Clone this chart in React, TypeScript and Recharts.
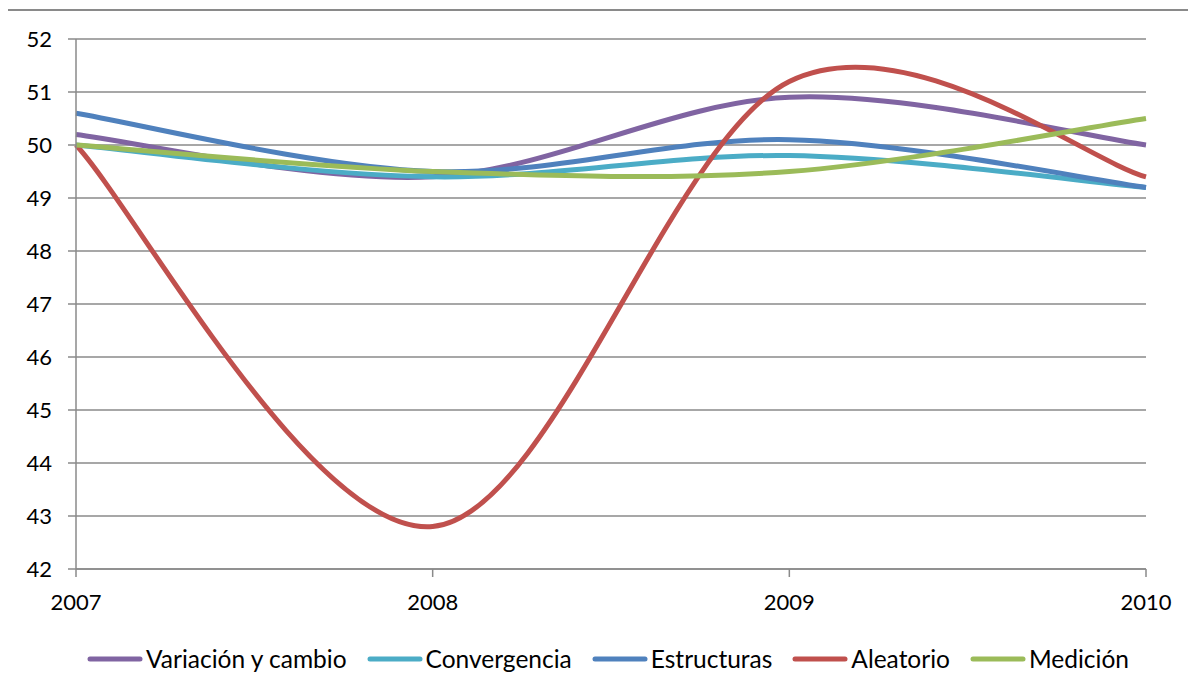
import React from "react";
import { LineChart, Line, XAxis, YAxis, CartesianGrid } from "recharts";

const years = [2007, 2008, 2009, 2010];
const variacion = [50.2, 49.4, 50.9, 50.0];
const convergencia = [50.0, 49.4, 49.8, 49.2];
const estructuras = [50.6, 49.5, 50.1, 49.2];
const aleatorio = [50.0, 42.8, 51.2, 49.4];
const medicion = [50.0, 49.5, 49.5, 50.5];
const yTicks = [42, 43, 44, 45, 46, 47, 48, 49, 50, 51, 52];

const seriesDefs = [
  { key: "variacion", name: "Variación y cambio", color: "#8064A2", values: variacion },
  { key: "convergencia", name: "Convergencia", color: "#4BACC6", values: convergencia },
  { key: "estructuras", name: "Estructuras", color: "#4F81BD", values: estructuras },
  { key: "aleatorio", name: "Aleatorio", color: "#C0504D", values: aleatorio },
  { key: "medicion", name: "Medición", color: "#9BBB59", values: medicion },
];

const data = years.map((y, i) => {
  const row: any = { year: y };
  seriesDefs.forEach((s) => (row[s.key] = s.values[i]));
  return row;
});

// Excel-like smoothing (Catmull-Rom to Bezier)
class ExcelCurve {
  _context: any;
  _x: number[] = [];
  _y: number[] = [];
  _line: number = NaN;
  constructor(context: any) {
    this._context = context;
  }
  areaStart() {
    this._line = 0;
  }
  areaEnd() {
    this._line = NaN;
  }
  lineStart() {
    this._x = [];
    this._y = [];
  }
  point(x: number, y: number) {
    this._x.push(+x);
    this._y.push(+y);
  }
  lineEnd() {
    const xs = this._x;
    const ys = this._y;
    const n = xs.length;
    if (n) {
      if (this._line) this._context.lineTo(xs[0], ys[0]);
      else this._context.moveTo(xs[0], ys[0]);
      for (let i = 0; i < n - 1; i++) {
        const i0 = Math.max(0, i - 1);
        const i3 = Math.min(n - 1, i + 2);
        const c1x = xs[i] + (xs[i + 1] - xs[i0]) / 6;
        const c1y = ys[i] + (ys[i + 1] - ys[i0]) / 6;
        const c2x = xs[i + 1] - (xs[i3] - xs[i]) / 6;
        const c2y = ys[i + 1] - (ys[i3] - ys[i]) / 6;
        this._context.bezierCurveTo(c1x, c1y, c2x, c2y, xs[i + 1], ys[i + 1]);
      }
    }
    if (this._line || (this._line !== 0 && n === 1)) this._context.closePath();
    this._line = 1 - this._line;
    this._x = [];
    this._y = [];
  }
}

const excelCurve: any = (context: any) => new ExcelCurve(context);

const FONT = "Lato, 'Open Sans', sans-serif";

const LegendContent = () => (
  <div
    style={{
      display: "flex",
      justifyContent: "center",
      alignItems: "center",
      fontFamily: FONT,
      fontSize: 24.5,
      color: "#000",
    }}
  >
    {seriesDefs.map((s, i) => (
      <div
        key={s.key}
        style={{ display: "flex", alignItems: "center", marginRight: i === seriesDefs.length - 1 ? 0 : 20 }}
      >
        <svg width={56} height={10} style={{ marginRight: 3 }}>
          <line x1={3} y1={5} x2={53} y2={5} stroke={s.color} strokeWidth={5} strokeLinecap="round" />
        </svg>
        <span>{s.name}</span>
      </div>
    ))}
  </div>
);

// Page coords: root sits at (8, 8)
export default function App() {
  return (
    <div style={{ position: "relative", width: 1180, height: 678, background: "#fff" }}>
      <div
        style={{
          position: "absolute",
          left: -2,
          top: 1,
          width: 1190,
          height: 685,
          borderLeft: "2px solid #8a8a8a",
          borderTop: "2px solid #8a8a8a",
          boxSizing: "border-box",
          pointerEvents: "none",
        }}
      />
      <div style={{ position: "absolute", left: 0, top: 0 }}>
        <LineChart
          width={1180}
          height={678}
          data={data}
          margin={{ top: 31, right: 42, left: 8, bottom: 57 }}
        >
          <CartesianGrid horizontal={true} vertical={false} stroke="#8a8a8a" strokeWidth={1.5} />
          <XAxis
            dataKey="year"
            type="number"
            domain={[2007, 2010]}
            ticks={years}
            allowDecimals={false}
            axisLine={{ stroke: "#8a8a8a", strokeWidth: 1.5 }}
            tickLine={{ stroke: "#8a8a8a", strokeWidth: 1.5 }}
            tickSize={8}
            tickMargin={17}
            tick={{ fill: "#000", fontSize: 22, fontFamily: FONT }}
            height={60}
          />
          <YAxis
            type="number"
            domain={[42, 52]}
            ticks={yTicks}
            interval={0}
            axisLine={{ stroke: "#8a8a8a", strokeWidth: 1.5 }}
            tickLine={{ stroke: "#8a8a8a", strokeWidth: 1.5 }}
            tickSize={8}
            tickMargin={16}
            tick={{ fill: "#000", fontSize: 22, fontFamily: FONT }}
            width={60}
          />
          {seriesDefs.map((s) => (
            <Line
              key={s.key}
              dataKey={s.key}
              name={s.name}
              type={excelCurve}
              stroke={s.color}
              strokeWidth={5}
              dot={false}
              activeDot={false}
              isAnimationActive={false}
            />
          ))}
        </LineChart>
      </div>
      <div style={{ position: "absolute", left: -8, top: 636, width: 1216 }}>
        <LegendContent />
      </div>
    </div>
  );
}
